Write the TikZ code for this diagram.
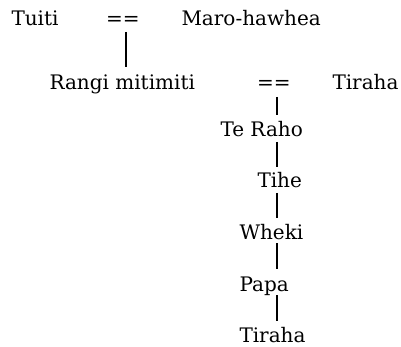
\documentclass[tikz,border=0pt]{standalone}
\usepackage{fontspec}
\setmainfont{DejaVu Serif}
\usetikzlibrary{calc}
\begin{document}
\begin{tikzpicture}[x=1pt,y=1pt,
  persontext/.style={anchor=base west,inner sep=0pt,outer sep=0pt,font=\fontsize{20}{24}\selectfont},
  link/.style={line width=2pt}]
\useasboundingbox (0,0) rectangle (401,-347);
% first couple
\node[persontext] (tuiti) at (11.5,-26) {Tuiti};
\node[persontext] (eq1)   at (106,-26) {==};
\node[persontext] (maro)  at (181.5,-26) {Maro-hawhea};
% second couple
\node[persontext] (rangi) at (49.5,-90) {Rangi mitimiti};
\node[persontext] (eq2)   at (257,-90) {==};
\node[persontext] (tiraha1) at (332.5,-90) {Tiraha};
% descendants
\node[persontext] (teraho) at (220.5,-137) {Te Raho};
\node[persontext] (tihe)   at (257.5,-188) {Tihe};
\node[persontext] (wheki)  at (239.5,-239) {Wheki};
\node[persontext] (papa)   at (239.5,-291) {Papa};
\node[persontext] (tiraha2) at (239.5,-342) {Tiraha};
% spines
\coordinate (sa) at (126,0);
\coordinate (sb) at (276.5,0);
\draw[link] ([yshift=-6pt]sa |- eq1.base) -- ([yshift=23pt]sa |- rangi.base);
\draw[link] ([yshift=-7pt]sb |- eq2.base) -- ([yshift=22pt]sb |- teraho.base);
\draw[link] ([yshift=-5pt]sb |- teraho.base) -- ([yshift=21pt]sb |- tihe.base);
\draw[link] ([yshift=-5pt]sb |- tihe.base) -- ([yshift=21pt]sb |- wheki.base);
\draw[link] ([yshift=-4pt]sb |- wheki.base) -- ([yshift=22pt]sb |- papa.base);
\draw[link] ([yshift=-4pt]sb |- papa.base) -- ([yshift=21pt]sb |- tiraha2.base);
\end{tikzpicture}
\end{document}
